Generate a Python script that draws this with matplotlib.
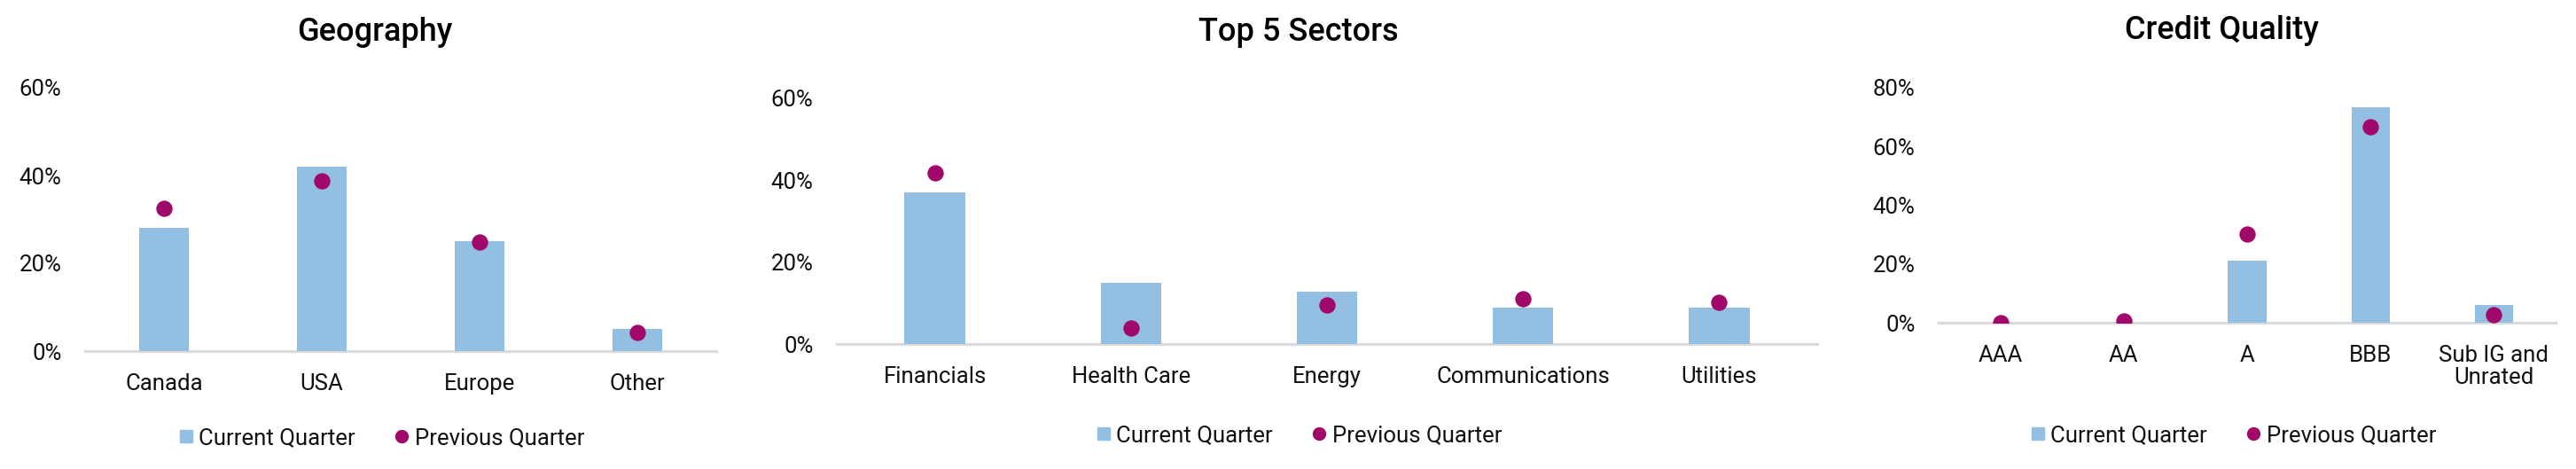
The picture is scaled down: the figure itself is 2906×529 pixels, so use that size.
import matplotlib
matplotlib.use("Agg")
import matplotlib.pyplot as plt
from matplotlib.lines import Line2D
from matplotlib.ticker import FuncFormatter, MultipleLocator

plt.rcParams['font.family'] = ['Roboto', 'DejaVu Sans']

# ---- data ----
geo_cats = ["Canada", "USA", "Europe", "Other"]
geo_current = [28.0, 42.1, 25.0, 5.0]
geo_previous = [32.5, 38.7, 24.8, 4.3]

sec_cats = ["Financials", "Health Care", "Energy", "Communications", "Utilities"]
sec_current = [37.1, 14.9, 12.8, 8.9, 8.9]
sec_previous = [41.9, 3.9, 9.6, 11.1, 10.1]

cq_cats = ["AAA", "AA", "A", "BBB", "Sub IG and\nUnrated"]
cq_current = [0.0, 0.0, 21.1, 73.3, 5.9]
cq_previous = [0.0, 0.6, 30.2, 66.6, 2.8]

titles = ["Geography", "Top 5 Sectors", "Credit Quality"]
legend_labels = ["Current Quarter", "Previous Quarter"]

BAR = "#93BFE3"
DOT = "#A0086A"
AXIS = "#D9D9D9"

W, H = 2906, 529
fig = plt.figure(figsize=(W / 100, H / 100), dpi=100)

def px_axes(left, right, bottom, top):
    return fig.add_axes([left / W, (H - bottom) / H, (right - left) / W, (bottom - top) / H])

panels = [
    dict(cats=geo_cats, cur=geo_current, prev=geo_previous, box=(96, 808, 396, 99),
         ymax=60, step=20, title_x=423, title_y=37, leg_x=430, leg_y=494),
    dict(cats=sec_cats, cur=sec_current, prev=sec_previous, box=(944, 2050, 388, 111),
         ymax=60, step=20, title_x=1465, title_y=37, leg_x=1465, leg_y=491),
    dict(cats=cq_cats, cur=cq_current, prev=cq_previous, box=(2187, 2883, 364, 99),
         ymax=80, step=20, title_x=2506, title_y=35, leg_x=2519, leg_y=491),
]

for p, title in zip(panels, titles):
    ax = px_axes(*p["box"])
    x = list(range(len(p["cats"])))
    ax.bar(x, p["cur"], width=0.31, color=BAR, zorder=2)
    ax.scatter(x, p["prev"], s=175, color=DOT, zorder=3, linewidths=0)
    ax.set_xlim(-0.5, len(x) - 0.5)
    ax.set_ylim(0, p["ymax"])
    ax.yaxis.set_major_locator(MultipleLocator(p["step"]))
    ax.yaxis.set_major_formatter(FuncFormatter(lambda v, pos: f"{v:.0f}%"))
    ax.set_xticks(x)
    ax.set_xticklabels(p["cats"], fontsize=18.5, color="#111111", linespacing=1.05)
    ax.tick_params(axis="y", length=0, pad=19, labelsize=18.5, labelcolor="#111111")
    ax.tick_params(axis="x", length=0, pad=18)
    for s in ["top", "right", "left"]:
        ax.spines[s].set_visible(False)
    ax.spines["bottom"].set_color(AXIS)
    ax.spines["bottom"].set_linewidth(2.3)
    ax.spines["bottom"].set_zorder(1)
    ax.patch.set_alpha(0)

    fig.text(p["title_x"] / W, 1 - p["title_y"] / H, title, ha="center", va="center",
             fontsize=26, fontweight="medium", color="#000000")

    handles = [
        Line2D([], [], marker="s", linestyle="none", markersize=10, color=BAR),
        Line2D([], [], marker="o", linestyle="none", markersize=10, color=DOT),
    ]
    fig.legend(handles, legend_labels, loc="center",
               bbox_to_anchor=(p["leg_x"] / W, 1 - p["leg_y"] / H), ncol=2,
               frameon=False, fontsize=18.5, handlelength=0.7, handletextpad=0.2,
               columnspacing=1.7, labelcolor="#111111")

fig.savefig("out.png", dpi=100, facecolor="white")
